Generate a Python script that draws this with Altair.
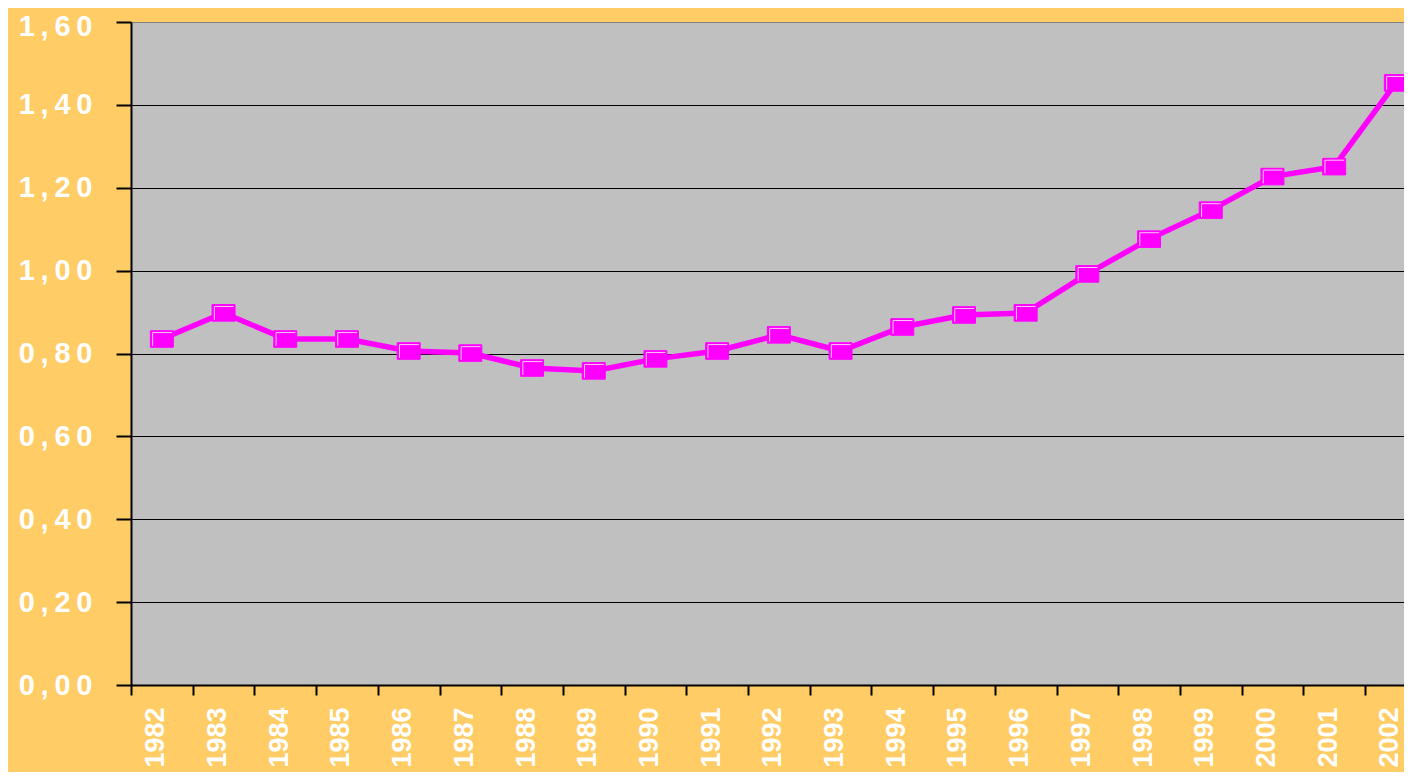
import altair as alt
import pandas as pd

years = [1982, 1983, 1984, 1985, 1986, 1987, 1988, 1989, 1990, 1991, 1992,
         1993, 1994, 1995, 1996, 1997, 1998, 1999, 2000, 2001, 2002]
values = [0.835, 0.898, 0.835, 0.835, 0.806, 0.801, 0.765, 0.758, 0.787, 0.806, 0.845,
          0.806, 0.864, 0.893, 0.898, 0.992, 1.076, 1.146, 1.227, 1.251, 1.453]
y_ticks = [0.0, 0.2, 0.4, 0.6, 0.8, 1.0, 1.2, 1.4, 1.6]

BAND = 61.7
PLOT_W = 1273
PLOT_H = 663
XMAX = PLOT_W / BAND

df = pd.DataFrame({
    "year": years,
    "pos": [i + 0.5 for i in range(len(years))],
    "value": values,
})

T = "\u2009"
y_label_expr = (
    "slice(format(datum.value, '.2f'),0,1) + '" + T + "," + T + "' + "
    "slice(format(datum.value, '.2f'),2,3) + '" + T + "' + "
    "slice(format(datum.value, '.2f'),3,4)"
)

x_enc = alt.X(
    "pos:Q",
    scale=alt.Scale(domain=[0, XMAX], nice=False, zero=False),
    axis=alt.Axis(
        values=[i + 0.5 for i in range(len(years))],
        labelExpr="'' + (1982 + floor(datum.value))",
        tickOffset=-BAND / 2,
        labelOffset=BAND / 2 - 6,
        labelAngle=270,
        labelAlign="right",
        labelBaseline="middle",
        labelFont="Liberation Sans",
        labelFontWeight="bold",
        labelFontSize=27,
        labelColor="white",
        labelPadding=12,
        labelFlush=False,
        labelOverlap=False,
        labelBound=False,
        tickSize=10,
        tickWidth=2,
        tickColor="black",
        domainColor="black",
        domainWidth=2,
        grid=False,
        title=None,
    ),
)

y_enc = alt.Y(
    "value:Q",
    scale=alt.Scale(domain=[0, 1.6], nice=False, zero=True),
    axis=alt.Axis(
        values=y_ticks,
        labelExpr=y_label_expr,
        labelFont="Liberation Sans",
        labelFontWeight="bold",
        labelFontSize=29,
        labelColor="white",
        labelPadding=24,
        labelOffset={"condition": {"test": "datum.value >= 1.59", "value": 4}, "value": 0},
        labelFlush=False,
        labelOverlap=False,
        labelBound=False,
        tickSize=15,
        tickWidth=2,
        tickColor="black",
        domainColor="black",
        domainWidth=2,
        grid=True,
        gridColor={"condition": {"test": "datum.value >= 1.59", "value": "#808080"}, "value": "black"},
        gridWidth=1,
        title=None,
    ),
)

base = alt.Chart(df).encode(x=x_enc, y=y_enc)

line = base.mark_line(color="#FF00FF", strokeWidth=5.5)

box = base.mark_point(
    shape="M-1,-0.72L1,-0.72L1,0.72L-1,0.72Z",
    size=529,
    filled=True,
    fill="#FF00FF",
    stroke="#FF00FF",
    strokeWidth=1,
    opacity=1,
)

bevel = base.mark_point(
    shape="M-0.8,0.6L-0.8,-0.56L0.88,-0.56",
    size=529,
    filled=False,
    stroke="#FFC8FF",
    strokeWidth=1,
    opacity=1,
)

chart = (
    alt.layer(line, box, bevel)
    .properties(
        width=PLOT_W,
        height=PLOT_H,
        autosize=alt.AutoSizeParams(type="none"),
        padding={"left": 123, "top": 14, "right": 0, "bottom": 87},
        background="#FFCC66",
    )
    .configure_view(fill="#C0C0C0", stroke=None)
)

chart.save("out.html", embed_options={"renderer": "svg", "actions": False})
